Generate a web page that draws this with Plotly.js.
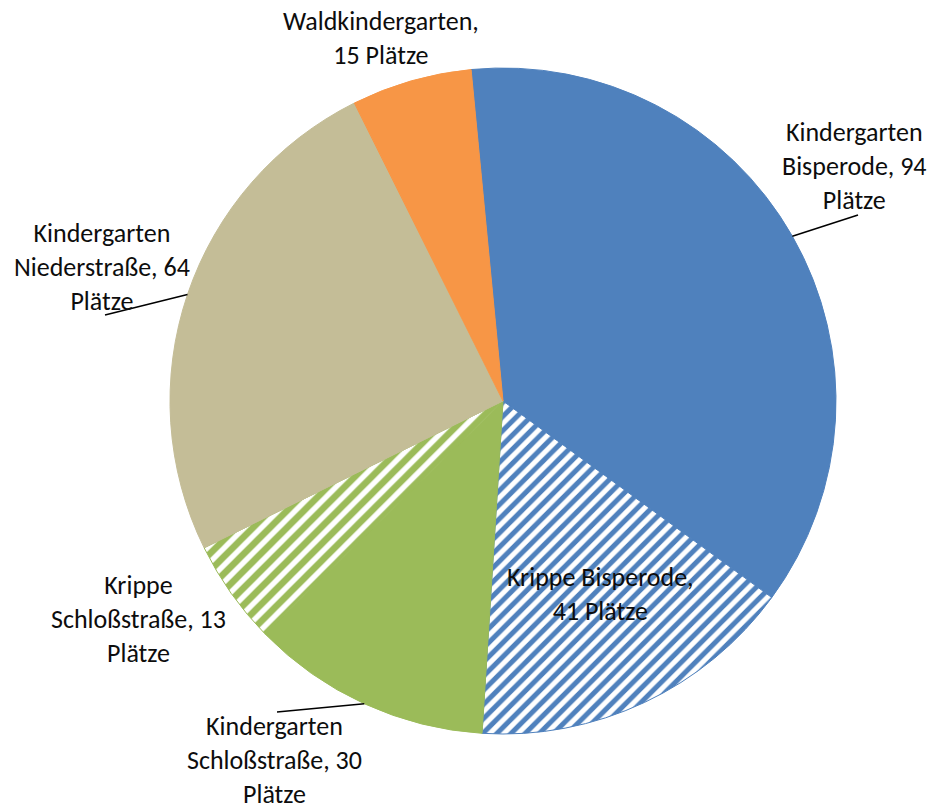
<!DOCTYPE html>
<html>
<head>
<meta charset="utf-8">
<script src="https://cdn.plot.ly/plotly-3.0.1.min.js"></script>
<style>html,body{margin:0;padding:0;background:#fff;}#chart{width:932px;height:809px;}</style>
</head>
<body>
<div id="chart"></div>
<script>
// ---- data ----
const categories = ['Kindergarten Bisperode', 'Krippe Bisperode', 'Kindergarten Schloßstraße', 'Krippe Schloßstraße', 'Kindergarten Niederstraße', 'Waldkindergarten'];
const values = [94, 41, 30, 13, 64, 15];
const unit = 'Plätze';

// ---- styles ----
const colors = ['#4F81BD', '#4F81BD', '#9BBB59', '#9BBB59', '#C4BD97', '#F79646'];
const patternShapes = ['', '/', '', '/', '', ''];
const W = 932, H = 809;
const cx = 503, cy = 401, R = 333;
const rotation = -5.5;
const FONT = 'Carlito, Calibri, Lato, sans-serif';
const FS = 26;
// label layout: how to wrap, centre (px), optional leader-line end (px)
const labelStyle = [
  {wrap: 3, x: 854, y: 166, leader: [858, 215]},
  {wrap: 2, x: 600, y: 594},
  {wrap: 3, x: 274, y: 760, leader: [277, 712]},
  {wrap: 3, x: 138, y: 619},
  {wrap: 3, x: 102, y: 267, leader: [105, 315]},
  {wrap: 2, x: 381, y: 38}
];

const px = x => x / W;
const py = y => 1 - y / H;

function labelText(name, v, wrap) {
  if (wrap === 3) {
    const i = name.indexOf(' ');
    return name.slice(0, i) + '<br>' + name.slice(i + 1) + ', ' + v + '<br>' + unit;
  }
  return name + ',<br>' + v + ' ' + unit;
}

const total = values.reduce((a, b) => a + b, 0);
const annotations = [];
const shapes = [];
let cum = 0;
values.forEach((v, i) => {
  const st = labelStyle[i];
  annotations.push({
    xref: 'paper', yref: 'paper', x: px(st.x), y: py(st.y),
    xanchor: 'center', yanchor: 'middle', align: 'center', showarrow: false,
    text: labelText(categories[i], v, st.wrap),
    font: {family: FONT, size: FS, color: '#0d0d0d'}
  });
  const mid = (rotation + (cum + v / 2) / total * 360) * Math.PI / 180;
  if (st.leader) {
    const ax = cx + R * Math.sin(mid), ay = cy - R * Math.cos(mid);
    shapes.push({
      type: 'line', xref: 'paper', yref: 'paper',
      x0: px(ax), y0: py(ay), x1: px(st.leader[0]), y1: py(st.leader[1]),
      line: {color: '#000', width: 1.5}
    });
  }
  cum += v;
});

const trace = {
  type: 'pie',
  labels: categories,
  values: values,
  sort: false,
  direction: 'clockwise',
  rotation: rotation,
  textinfo: 'none',
  hoverinfo: 'label+value',
  domain: {x: [px(cx - R), px(cx + R)], y: [py(cy + R), py(cy - R)]},
  marker: {
    colors: colors,
    line: {color: colors, width: 1},
    pattern: {
      shape: patternShapes,
      fgcolor: colors,
      bgcolor: ['#fff', '#fff', '#fff', '#fff', '#fff', '#fff'],
      size: [10, 10, 12, 12, 10, 10],
      solidity: [0.5, 0.5, 0.55, 0.55, 0.5, 0.5],
      fillmode: 'replace'
    }
  }
};

const layout = {
  width: W, height: H,
  margin: {l: 0, r: 0, t: 0, b: 0},
  paper_bgcolor: '#fff',
  showlegend: false,
  annotations: annotations,
  shapes: shapes
};

Plotly.newPlot('chart', [trace], layout, {displayModeBar: false, staticPlot: true});
</script>
</body>
</html>
